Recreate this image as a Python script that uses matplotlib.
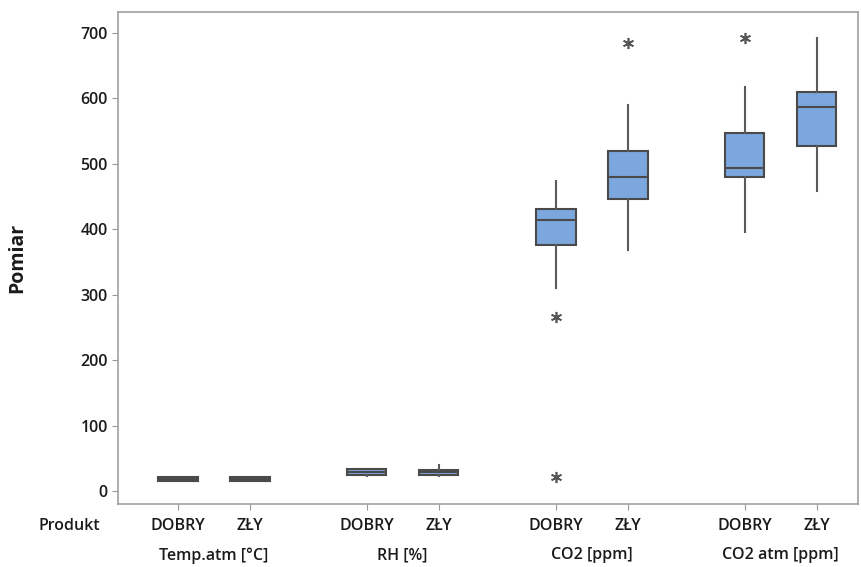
import matplotlib
matplotlib.use("Agg")
from matplotlib import pyplot as plt

plt.rcParams['font.family'] = ['Open Sans', 'DejaVu Sans']

# zmienne i produkty
groups = ["Temp.atm [°C]", "RH [%]", "CO2 [ppm]", "CO2 atm [ppm]"]
products = ["DOBRY", "ZŁY"]

# statystyki pudełek: kolejno Temp DOBRY, Temp ZŁY, RH DOBRY, RH ZŁY, CO2 ..., CO2 atm ...
whis_lo = [15, 15, 23, 23, 310, 368, 395, 458]
q1 = [15, 15, 25, 25, 376, 446, 479, 527]
med = [18, 18, 29, 29, 414, 479, 494, 587]
q3 = [21, 21, 33, 32, 431, 519, 547, 609]
whis_hi = [22, 22, 34, 39, 474, 589, 617, 692]
fliers = [[], [], [], [], [266, 22], [685], [692], []]

group_pos = [0, 2.62, 5.25, 7.87]
positions = [g + k for g in group_pos for k in (0, 1)]

fig, ax = plt.subplots(figsize=(8.62, 5.67), dpi=100)
fig.subplots_adjust(left=0.137, right=0.995, bottom=0.111, top=0.979)

stats = []
for i in range(len(positions)):
    stats.append({"whislo": whis_lo[i], "q1": q1[i], "med": med[i],
                  "q3": q3[i], "whishi": whis_hi[i], "fliers": fliers[i]})

edge = "#4a4a4a"
ax.bxp(stats, positions=positions, widths=0.55, patch_artist=True,
       showcaps=False,
       boxprops=dict(facecolor="#7ba7dc", edgecolor=edge, linewidth=1.5),
       medianprops=dict(color=edge, linewidth=1.5),
       whiskerprops=dict(color="#5a5a5a", linewidth=1.5),
       flierprops=dict(marker=(6, 2, 0), markersize=8, markeredgecolor="#555555",
                       markeredgewidth=1.2, linestyle="none"))

ax.set_xlim(-0.83, 9.44)
ax.set_ylim(-20, 732)
ax.set_yticks(range(0, 701, 100))
ax.set_xticks(positions)
ax.set_xticklabels(products * 4)
ax.tick_params(axis="both", colors="#999999", labelcolor="#1a1a1a",
               labelsize=11.5, length=4)
ax.tick_params(axis="x", pad=6)
for lab in ax.get_xticklabels() + ax.get_yticklabels():
    lab.set_fontweight("semibold")

for s in ax.spines.values():
    s.set_color("#a0a0a0")
    s.set_linewidth(1.2)

ax.set_ylabel("Pomiar", fontsize=14, fontweight="bold", color="#1a1a1a", labelpad=38)

# etykiety grup pod osią
for g, name in zip(group_pos, groups):
    ax.text(g + 0.5, -0.104, name, transform=ax.get_xaxis_transform(),
            ha="center", va="center", fontsize=11.5, fontweight="semibold",
            color="#1a1a1a")
ax.text(-0.024, -0.044, "Produkt", transform=ax.transAxes, ha="right",
        va="center", fontsize=11.5, fontweight="semibold", color="#1a1a1a")

fig.savefig("out.png", dpi=100)
